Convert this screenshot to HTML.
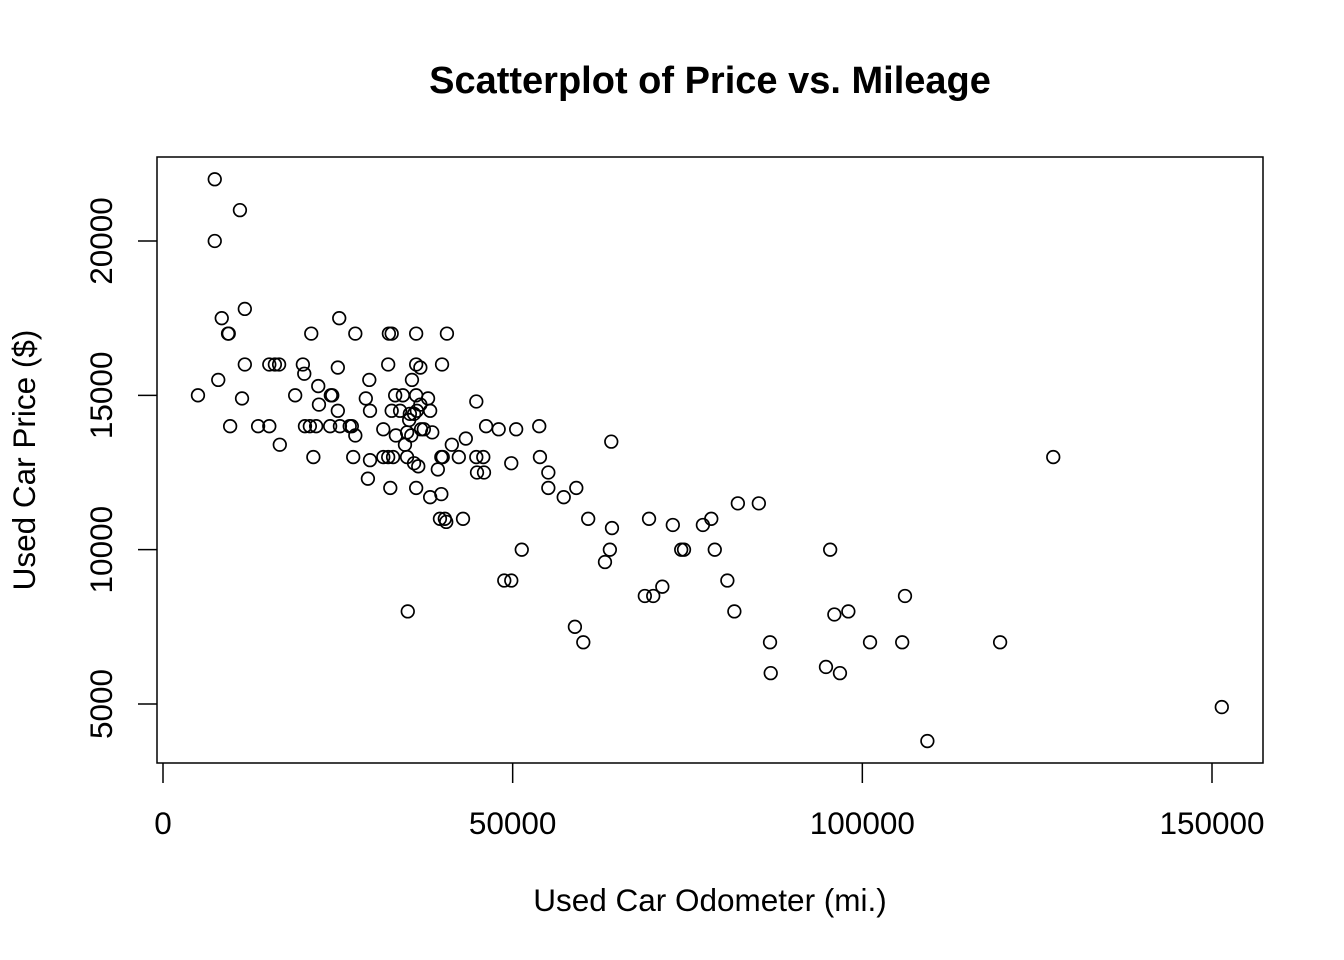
<!DOCTYPE html>
<html><head><meta charset="utf-8"><style>
html,body{margin:0;padding:0;background:#fff;}
svg{display:block;font-family:"Liberation Sans",Arial,sans-serif;}
</style></head><body>
<svg id="chart" width="1344" height="960" viewBox="0 0 1344 960">
<rect x="0" y="0" width="1344" height="960" fill="#fff"/>
<text x="710" y="93" text-anchor="middle" font-size="38" font-weight="bold">Scatterplot of Price vs. Mileage</text>
<rect x="157" y="157" width="1106" height="606" fill="none" stroke="#000" stroke-width="1.5"/>
<g id="xaxis"></g>
<g id="yaxis"></g>
<text x="710" y="911" text-anchor="middle" font-size="31.5">Used Car Odometer (mi.)</text>
<text transform="translate(35,460) rotate(-90)" text-anchor="middle" font-size="31.5">Used Car Price ($)</text>
<g id="points"></g>
</svg>
<script>
const odometer=[7400,11000,7400,11700,8400,9400,9300,25200,21200,27500,32300,32700,36200,40600,5000,7900,9600,11300,11700,13600,15200,15200,16000,16600,16700,18900,20000,20200,20300,21000,21500,21900,22200,22300,24000,24200,23900,25000,25000,25300,26700,27000,27200,27500,29000,29500,29600,29300,29600,31500,31500,32200,32200,32500,32700,32900,33200,33300,33900,34300,34600,34900,34900,35000,35200,35300,35500,35600,35900,35900,36200,36200,36200,36300,36500,36800,36800,36900,37300,37900,38200,38500,38200,39300,39800,39800,39600,40000,40300,40500,39900,41300,42300,43300,42900,44800,44800,44900,45800,45900,46200,48000,48800,49800,49800,50500,51300,53800,53900,55100,55100,57300,59100,58900,60100,60800,63200,63900,64100,64200,68900,69500,70100,71400,72900,74100,74500,77200,78400,78900,80700,81700,82200,85200,86800,86900,94800,95400,96000,96800,98000,101100,105700,106100,109300,119700,127300,151400];
const price=[22000,21000,20000,17800,17500,17000,17000,17500,17000,17000,17000,17000,17000,17000,15000,15500,14000,14900,16000,14000,14000,16000,16000,16000,13400,15000,16000,15700,14000,14000,13000,14000,15300,14700,15000,15000,14000,14500,15900,14000,14000,14000,13000,13700,14900,15500,14500,12300,12900,13900,13000,13000,16000,12000,14500,13000,15000,13700,14500,15000,13400,13000,13800,8000,14200,14400,13700,15500,14400,12800,16000,15000,12000,14500,12700,15900,14700,13900,13900,14900,14500,13800,11700,12600,13000,11800,11000,13000,11000,10900,16000,13400,13000,13600,11000,14800,13000,12500,13000,12500,14000,13900,9000,9000,12800,13900,10000,14000,13000,12500,12000,11700,12000,7500,7000,11000,9600,10000,13500,10700,8500,11000,8500,8800,10800,10000,10000,10800,11000,10000,9000,8000,11500,11500,7000,6000,6200,10000,7900,6000,8000,7000,7000,8500,3800,7000,13000,4900];
const xTicks=[0,50000,100000,150000];
const yTicks=[5000,10000,15000,20000];
const xScale=v=>163+(v-0)*(1212-163)/150000;
const yScale=v=>241+(20000-v)*(704-241)/15000;
const NS="http://www.w3.org/2000/svg";
const xa=document.getElementById('xaxis'), ya=document.getElementById('yaxis'), pts=document.getElementById('points');
xTicks.forEach(t=>{
  const l=document.createElementNS(NS,'line');
  l.setAttribute('x1',xScale(t));l.setAttribute('x2',xScale(t));l.setAttribute('y1',763);l.setAttribute('y2',783);
  l.setAttribute('stroke','#000');l.setAttribute('stroke-width','1.5');
  
  
  xa.appendChild(l);
  const tx=document.createElementNS(NS,'text');
  tx.setAttribute('x',xScale(t));tx.setAttribute('y',834);tx.setAttribute('text-anchor','middle');tx.setAttribute('font-size','31.5');
  tx.textContent=String(t);
  
  
  xa.appendChild(tx);
});
yTicks.forEach(t=>{
  const l=document.createElementNS(NS,'line');
  l.setAttribute('x1',138);l.setAttribute('x2',157);l.setAttribute('y1',yScale(t));l.setAttribute('y2',yScale(t));
  l.setAttribute('stroke','#000');l.setAttribute('stroke-width','1.5');
  
  
  ya.appendChild(l);
  const tx=document.createElementNS(NS,'text');
  tx.setAttribute('transform','translate(112,'+yScale(t)+') rotate(-90)');
  tx.setAttribute('text-anchor','middle');tx.setAttribute('font-size','31.5');
  tx.textContent=String(t);
  
  
  ya.appendChild(tx);
});
odometer.forEach((v,i)=>{
  const c=document.createElementNS(NS,'circle');
  c.setAttribute('cx',xScale(v));c.setAttribute('cy',yScale(price[i]));c.setAttribute('r',6.3);
  c.setAttribute('fill','none');c.setAttribute('stroke','#000');c.setAttribute('stroke-width','1.7');
  
  
  pts.appendChild(c);
});
</script>
</body></html>
